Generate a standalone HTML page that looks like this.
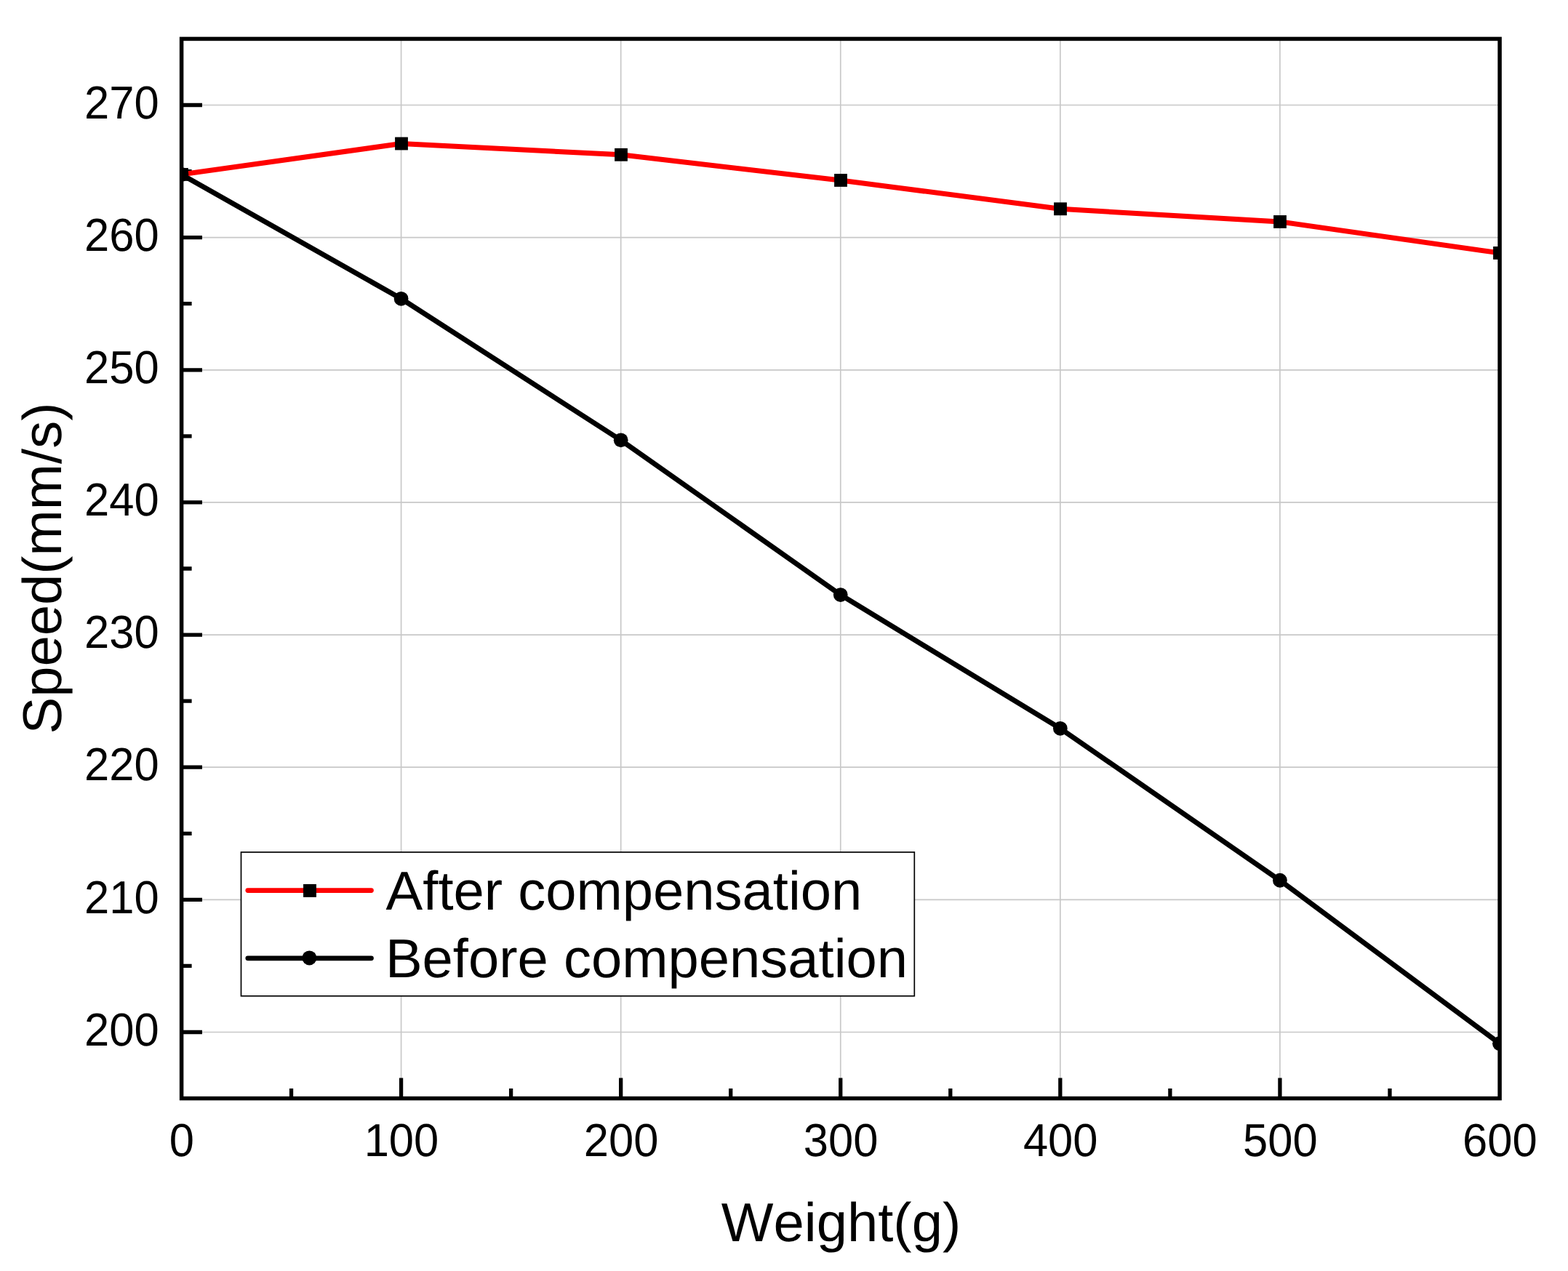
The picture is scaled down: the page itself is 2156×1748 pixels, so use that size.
<!DOCTYPE html><html><head><meta charset="utf-8"><style>html,body{margin:0;padding:0;background:#fff;}svg{display:block;}text{font-family:'Liberation Sans', Arial, sans-serif;fill:#000;font-kerning:none;text-rendering:geometricPrecision;}</style></head><body>
<svg width="2156" height="1748" viewBox="0 0 2156 1748">
<rect width="2156" height="1748" fill="#fff"/>
<defs><clipPath id="pc"><rect x="250.50" y="54.43" width="1810.50" height="1455.14"/></clipPath></defs>
<path d="M249.50 1419.50H2062.00M249.50 1237.36H2062.00M249.50 1055.21H2062.00M249.50 873.07H2062.00M249.50 690.93H2062.00M249.50 508.79H2062.00M249.50 326.64H2062.00M249.50 144.50H2062.00M551.58 53.43V1510.57M853.67 53.43V1510.57M1155.75 53.43V1510.57M1457.83 53.43V1510.57M1759.92 53.43V1510.57" stroke="#c8c8c8" stroke-width="1.7" fill="none"/>
<path d="M249.50 1419.50H278.00M249.50 1237.36H278.00M249.50 1055.21H278.00M249.50 873.07H278.00M249.50 690.93H278.00M249.50 508.79H278.00M249.50 326.64H278.00M249.50 144.50H278.00M249.50 1328.43H263.60M249.50 1146.29H263.60M249.50 964.14H263.60M249.50 782.00H263.60M249.50 599.86H263.60M249.50 417.71H263.60M249.50 235.57H263.60M551.58 1510.57V1482.40M853.67 1510.57V1482.40M1155.75 1510.57V1482.40M1457.83 1510.57V1482.40M1759.92 1510.57V1482.40M400.54 1510.57V1496.90M702.62 1510.57V1496.90M1004.71 1510.57V1496.90M1306.79 1510.57V1496.90M1608.88 1510.57V1496.90M1910.96 1510.57V1496.90" stroke="#000" stroke-width="5.3" fill="none"/>
<g clip-path="url(#pc)">
<polyline points="249.50,239.94 551.58,410.79 853.67,605.32 1155.75,818.06 1457.83,1001.85 1759.92,1210.76 2062.00,1435.16" fill="none" stroke="#000" stroke-width="7.0" stroke-linejoin="round" stroke-linecap="round"/>
<polyline points="249.50,239.94 551.58,197.50 853.67,212.80 1155.75,247.96 1457.83,287.30 1759.92,304.97 2062.00,347.95" fill="none" stroke="#f00" stroke-width="7.0" stroke-linejoin="round" stroke-linecap="round"/>
<circle cx="249.50" cy="239.94" r="9.9" fill="#000"/>
<circle cx="551.58" cy="410.79" r="9.9" fill="#000"/>
<circle cx="853.67" cy="605.32" r="9.9" fill="#000"/>
<circle cx="1155.75" cy="818.06" r="9.9" fill="#000"/>
<circle cx="1457.83" cy="1001.85" r="9.9" fill="#000"/>
<circle cx="1759.92" cy="1210.76" r="9.9" fill="#000"/>
<circle cx="2062.00" cy="1435.16" r="9.9" fill="#000"/>
<rect x="241.10" y="231.04" width="17.80" height="17.80" fill="#000"/>
<rect x="543.10" y="188.60" width="17.80" height="17.80" fill="#000"/>
<rect x="845.10" y="203.90" width="17.80" height="17.80" fill="#000"/>
<rect x="1147.10" y="239.06" width="17.80" height="17.80" fill="#000"/>
<rect x="1449.10" y="278.40" width="17.80" height="17.80" fill="#000"/>
<rect x="1751.10" y="296.07" width="17.80" height="17.80" fill="#000"/>
<rect x="2053.10" y="339.05" width="17.80" height="17.80" fill="#000"/>
</g>
<rect x="249.60" y="53.43" width="1812.50" height="1457.17" fill="none" stroke="#000" stroke-width="5.5"/>
<text x="218.6" y="0" text-anchor="end" font-size="61.50" transform="translate(0 1437.70) scale(1 1.035)">200</text>
<text x="218.6" y="0" text-anchor="end" font-size="61.50" transform="translate(0 1255.56) scale(1 1.035)">210</text>
<text x="218.6" y="0" text-anchor="end" font-size="61.50" transform="translate(0 1073.41) scale(1 1.035)">220</text>
<text x="218.6" y="0" text-anchor="end" font-size="61.50" transform="translate(0 891.27) scale(1 1.035)">230</text>
<text x="218.6" y="0" text-anchor="end" font-size="61.50" transform="translate(0 709.13) scale(1 1.035)">240</text>
<text x="218.6" y="0" text-anchor="end" font-size="61.50" transform="translate(0 526.99) scale(1 1.035)">250</text>
<text x="218.6" y="0" text-anchor="end" font-size="61.50" transform="translate(0 344.84) scale(1 1.035)">260</text>
<text x="218.6" y="0" text-anchor="end" font-size="61.50" transform="translate(0 162.70) scale(1 1.035)">270</text>
<text x="249.90" y="0" text-anchor="middle" font-size="61.50" transform="translate(0 1589.9) scale(1 1.035)">0</text>
<text x="551.98" y="0" text-anchor="middle" font-size="61.50" transform="translate(0 1589.9) scale(1 1.035)">100</text>
<text x="854.07" y="0" text-anchor="middle" font-size="61.50" transform="translate(0 1589.9) scale(1 1.035)">200</text>
<text x="1156.15" y="0" text-anchor="middle" font-size="61.50" transform="translate(0 1589.9) scale(1 1.035)">300</text>
<text x="1458.23" y="0" text-anchor="middle" font-size="61.50" transform="translate(0 1589.9) scale(1 1.035)">400</text>
<text x="1760.32" y="0" text-anchor="middle" font-size="61.50" transform="translate(0 1589.9) scale(1 1.035)">500</text>
<text x="2062.40" y="0" text-anchor="middle" font-size="61.50" transform="translate(0 1589.9) scale(1 1.035)">600</text>
<text x="1156.5" y="0" text-anchor="middle" font-size="76.00" transform="translate(0 1707.1) scale(1 0.990)">Weight(g)</text>
<text x="0" y="0" text-anchor="middle" font-size="76.00" transform="translate(83.6 781.5) rotate(-90) scale(1 0.990)">Speed(mm/s)</text>
<rect x="331.5" y="1172" width="925.8" height="197.8" fill="#fff" stroke="#000" stroke-width="1.7"/>
<path d="M340.8 1224.6H510.5" stroke="#f00" stroke-width="6.7" stroke-linecap="round"/>
<rect x="417.05" y="1215.95" width="17.9" height="17.9" fill="#000"/>
<path d="M340.8 1317.8H510.5" stroke="#000" stroke-width="6.7" stroke-linecap="round"/>
<circle cx="425.4" cy="1317.4" r="10.0" fill="#000"/>
<text x="530.6" y="0" font-size="76.00" transform="translate(0 1250.7) scale(1 0.990)">After compensation</text>
<text x="529.9" y="0" font-size="76.00" transform="translate(0 1344.0) scale(1 0.990)">Before compensation</text>
</svg></body></html>
